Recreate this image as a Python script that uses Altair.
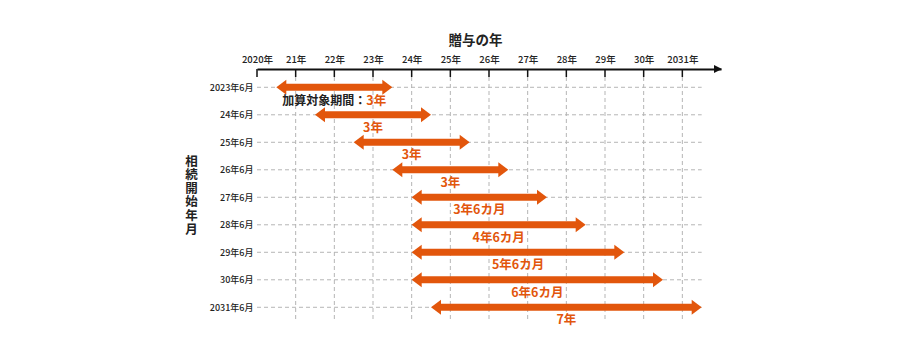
import altair as alt
import pandas as pd

# ---- data ----
rows = ["2023年6月", "24年6月", "25年6月", "26年6月", "27年6月",
        "28年6月", "29年6月", "30年6月", "2031年6月"]
starts = [2020.5, 2021.5, 2022.5, 2023.5, 2024.0, 2024.0, 2024.0, 2024.0, 2024.5]
ends = [2023.5, 2024.5, 2025.5, 2026.5, 2027.5, 2028.5, 2029.5, 2030.5, 2031.5]
periods = ["3年", "3年", "3年", "3年", "3年6カ月", "4年6カ月", "5年6カ月", "6年6カ月", "7年"]
first_prefix = "加算対象期間："
years = list(range(2020, 2032))
year_labels = ["2020年", "21年", "22年", "23年", "24年", "25年", "26年",
               "27年", "28年", "29年", "30年", "2031年"]
x_title = "贈与の年"
y_title = "相続開始年月"

ORANGE = "#e2560c"
FONT = "Noto Sans CJK JP"

df = pd.DataFrame({
    "i": list(range(len(rows))),
    "label": rows,
    "start": starts,
    "end": ends,
    "mid": [(s + e) / 2 for s, e in zip(starts, ends)],
    "period": periods,
    "gstart": [years[0]] * len(rows),
    "gend": [years[-1] + 0.5] * len(rows),
})
yr = pd.DataFrame({"year": years})
grid_years = pd.DataFrame({"year": years[1:]})
axis_end = pd.DataFrame({"year": [years[-1] + 1]})
first = df.iloc[[0]].copy()
first["prefix"] = first_prefix
rest = df.iloc[1:]

xs = alt.Scale(domain=[years[0], years[-1] + 1], nice=False, zero=False)
ys = alt.Scale(domain=[-0.665, 8.462], nice=False, zero=False, reverse=True)

x_label_expr = "[" + ",".join(f"'{t}'" for t in year_labels) + f"][datum.value-{years[0]}]"
y_label_expr = "[" + ",".join(f"'{t}'" for t in rows) + "][datum.value]"

x_axis = alt.Axis(orient="top", values=years, labelExpr=x_label_expr, domain=True,
                  domainColor="#111", domainWidth=2, ticks=False, grid=False,
                  labelOverlap=False, labelFlush=False, labelBound=False,
                  labelPadding=5, labelFontSize=9.5, labelColor="#222", labelFont=FONT,
                  labelFontWeight=500,
                  title=x_title, titleX=218, titleY=-29, titleBaseline="middle",
                  titleAlign="center", titleFontSize=13.5, titleFontWeight="bold",
                  titleFont=FONT, titleColor="#222")
y_axis = alt.Axis(values=list(range(len(rows))), labelExpr=y_label_expr, domain=False,
                  ticks=False, grid=False, labelOverlap=False, labelPadding=4,
                  labelFontSize=9, labelColor="#222", labelFont=FONT, labelFontWeight=500,
                  title=list(y_title), titleAngle=0, titleX=-66, titleY=86,
                  titleAlign="center", titleBaseline="top", titleLineHeight=13.6,
                  titleFontSize=12.5, titleFontWeight="bold", titleFont=FONT,
                  titleColor="#222")

def X(f):
    return alt.X(f, type="quantitative", scale=xs, axis=x_axis)

def Y(f):
    return alt.Y(f, type="quantitative", scale=ys, axis=y_axis)

hgrid = alt.Chart(df).mark_rule(color="#b5b5b5", strokeWidth=1, strokeDash=[4, 3]).encode(
    x=X("gstart"), x2="gend", y=Y("i"))

vgrid = alt.Chart(grid_years).mark_rule(color="#b5b5b5", strokeWidth=1, strokeDash=[4, 3]).encode(
    x=X("year"), y=alt.value(8), y2=alt.value(251))

ticks = alt.Chart(yr).mark_rule(color="#111", strokeWidth=1.5).encode(
    x=X("year"), y=alt.value(0), y2=alt.value(8))

shafts = alt.Chart(df).mark_rule(color=ORANGE, strokeWidth=7, xOffset=7, x2Offset=-7).encode(
    x=X("start"), x2="end", y=Y("i"))

right_head = alt.Chart(df).mark_point(
    shape="M-0.667,-1L0.667,0L-0.667,1Z", filled=True, fill=ORANGE, stroke=None,
    opacity=1, size=225, xOffset=-5).encode(x=X("end"), y=Y("i"))

left_head = alt.Chart(df).mark_point(
    shape="M0.667,-1L-0.667,0L0.667,1Z", filled=True, fill=ORANGE, stroke=None,
    opacity=1, size=225, xOffset=5).encode(x=X("start"), y=Y("i"))

texts = alt.Chart(rest).mark_text(
    font=FONT, fontSize=12.5, fontWeight="bold", color=ORANGE, dy=13,
    baseline="middle", align="center").encode(x=X("mid"), y=Y("i"), text="period:N")

first_prefix_t = alt.Chart(first).mark_text(
    font=FONT, fontSize=12, fontWeight="bold", color="#222", dy=14, dx=32,
    baseline="middle", align="right").encode(x=X("mid"), y=Y("i"), text="prefix:N")

first_period_t = alt.Chart(first).mark_text(
    font=FONT, fontSize=12.5, fontWeight="bold", color=ORANGE, dy=14, dx=32,
    baseline="middle", align="left").encode(x=X("mid"), y=Y("i"), text="period:N")

axis_arrow = alt.Chart(axis_end).mark_point(
    shape="M-1,-1L1,0L-1,1Z", filled=True, fill="#111", stroke=None, opacity=1,
    size=64, xOffset=-3).encode(x=X("year"), y=alt.value(0))

chart = alt.layer(
    hgrid, vgrid, ticks, shafts, right_head, left_head, texts,
    first_prefix_t, first_period_t, axis_arrow
).properties(
    width=464, height=251,
    padding={"left": 249, "top": 61, "right": 181, "bottom": 32},
    autosize=alt.AutoSizeParams(type="none"),
    background="white",
).configure_view(stroke=None)

chart.save("out.html", embed_options={"renderer": "svg", "actions": False})
